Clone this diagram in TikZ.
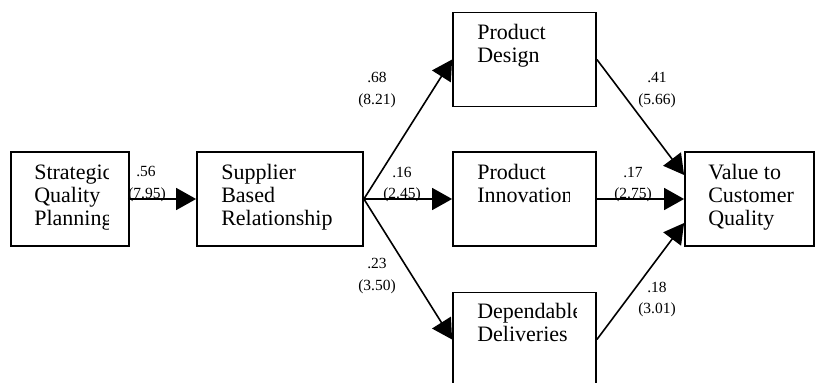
\documentclass[tikz,border=0pt]{standalone}
\usepackage{fontspec}
\setmainfont{Liberation Serif}
\usetikzlibrary{arrows.meta,calc}
\newcommand{\boxlines}[1]{\vtop{\halign{##\hfil\cr#1\crcr}}}
\begin{document}
\begin{tikzpicture}[x=1pt,y=-1pt,
  box/.style={draw, rectangle, line width=1.8pt, minimum width=#1, minimum height=94pt, inner sep=0pt},
  txt/.style={font=\fontsize{22}{23}\selectfont, anchor=base west, inner sep=0pt},
  lab/.style={font=\fontsize{15.5}{17}\selectfont, anchor=base, inner sep=0pt},
  arr/.style={line width=1.6pt, -{Triangle[length=20pt,width=22pt]}}]
\useasboundingbox (0,0) rectangle (815,383);
\clip (0,0) rectangle (815,383);

% boxes
\node[box=118pt] (spq) at (70,199) {};
\node[box=166pt] (sbr) at (280,199) {};
\node[box=143pt] (pd)  at (524.5,59.5) {};
\node[box=143pt] (pi)  at (524.5,199) {};
\node[box=143pt] (dd)  at (524.5,339.5) {};
\node[box=129pt] (vcq) at (749.5,199) {};

% box texts (clipped as in the reference)
\begin{scope}
  \clip (spq.north west) rectangle ([xshift=-21pt]spq.south east);
  \node[txt] (spqt) at ([xshift=24pt,yshift=-28pt]spq.north west) {\boxlines{Strategic\cr Quality\cr Planning}};
\end{scope}
\begin{scope}
  \clip (sbr.north west) rectangle ([xshift=-19pt]sbr.south east);
  \node[txt] (sbrt) at ([xshift=25pt,yshift=-28pt]sbr.north west) {\boxlines{Supplier\cr Based\cr Relationship}};
\end{scope}
\begin{scope}
  \clip (pd.north west) rectangle ([xshift=-20pt]pd.south east);
  \node[txt] (pdt) at ([xshift=25pt,yshift=-28pt]pd.north west) {\boxlines{Product\cr Design}};
\end{scope}
\begin{scope}
  \clip (pi.north west) rectangle ([xshift=-27pt]pi.south east);
  \node[txt] (pit) at ([xshift=25pt,yshift=-28pt]pi.north west) {\boxlines{Product\cr Innovation}};
\end{scope}
\begin{scope}
  \clip (dd.north west) rectangle ([xshift=-20pt]dd.south east);
  \node[txt] (ddt) at ([xshift=25pt,yshift=-27pt]dd.north west) {\boxlines{Dependable\cr Deliveries}};
\end{scope}
\begin{scope}
  \clip (vcq.north west) rectangle (vcq.south east);
  \node[txt] (vcqt) at ([xshift=24pt,yshift=-28pt]vcq.north west) {\boxlines{Value to\cr Customer\cr Quality}};
\end{scope}

% connectors
\draw[arr] ([xshift=-2pt]spq.east) -- (sbr.west);
\draw[arr] (sbr.east) -- (pd.west);
\draw[arr] (sbr.east) -- (pi.west);
\draw[arr] (sbr.east) -- (dd.west);
\draw[arr] (pd.east) -- ([yshift=24pt]vcq.west);
\draw[arr] (pi.east) -- (vcq.west);
\draw[arr] (dd.east) -- ([yshift=-24pt]vcq.west);

% coefficient labels
\node[lab] (l1a) at (146,176) {.56};
\node[lab] (l1b) at (147,198) {(7.95)};
\node[lab] (l2a) at (377,82) {.68};
\node[lab] (l2b) at (377,104) {(8.21)};
\node[lab] (l3a) at (402,177) {.16};
\node[lab] (l3b) at (402,198) {(2.45)};
\node[lab] (l4a) at (377,268) {.23};
\node[lab] (l4b) at (377,290) {(3.50)};
\node[lab] (l5a) at (657,82) {.41};
\node[lab] (l5b) at (657,104) {(5.66)};
\node[lab] (l6a) at (633,177) {.17};
\node[lab] (l6b) at (633,198) {(2.75)};
\node[lab] (l7a) at (657,292) {.18};
\node[lab] (l7b) at (657,313) {(3.01)};
\end{tikzpicture}
\end{document}
